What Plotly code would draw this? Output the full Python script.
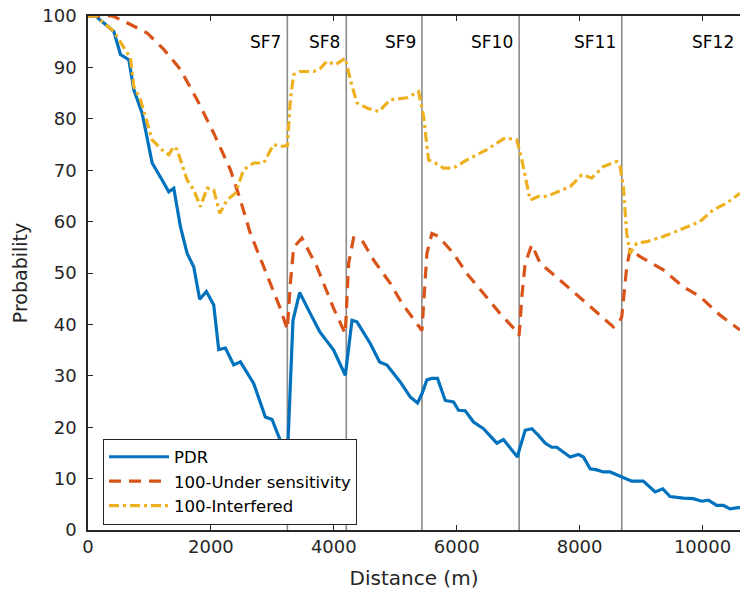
import plotly.graph_objects as go

# ---------------- data ----------------
dist_pdr = [0, 122, 420, 474, 528, 664, 745, 881, 1044, 1206, 1314, 1396, 1504, 1613, 1720,
            1818, 1927, 2046, 2127, 2236, 2371, 2480, 2696, 2886, 2995, 3130, 3244,
            3336, 3444, 3618, 3770, 3997, 4187,
            4296, 4377, 4593, 4745, 4865, 5081, 5244, 5363, 5434,
            5515, 5596, 5688, 5813, 5948, 6030, 6138, 6274, 6436, 6653, 6761, 6989, 7016,
            7114, 7222, 7330, 7439, 7547, 7629, 7846, 7980, 8062, 8171, 8279, 8387, 8496, 8686,
            8849, 9037, 9228, 9353, 9472, 9688, 9851, 9987, 10095, 10231, 10339, 10447, 10610]
pdr = [100, 100, 97, 94.8, 92.5, 91.5, 85.7, 81.1, 71.4, 68.1, 65.8, 66.5, 59, 53.8, 51.2,
       44.9, 46.4, 43.8, 35.1, 35.4, 32.1, 32.7, 28.5, 22, 21.5, 17.4, 14,
       40.8, 46.2, 42.1, 38.6, 35, 30.1,
       40.8, 40.5, 36.3, 32.7, 32.1, 28.8, 25.9, 24.7, 26.5,
       29.2, 29.5, 29.5, 25.2, 24.9, 23.3, 23.2, 21, 19.7, 16.9, 17.6, 14.2, 15.5,
       19.4, 19.7, 18.4, 16.9, 16.1, 16.1, 14.2, 14.7, 14.2, 11.9, 11.7, 11.3, 11.3, 10.3,
       9.5, 9.5, 7.4, 8, 6.5, 6.2, 6.1, 5.6, 5.8, 4.8, 4.8, 4.1, 4.4]

dist_under = [0, 400, 583, 962, 1233, 1504, 1775, 2046, 2317, 2480, 2642, 2858, 2967, 3130, 3244,
              3293, 3347, 3482, 3726, 3997, 4187,
              4241, 4322, 4458, 4648, 4919, 5109, 5379, 5434,
              5515, 5597, 5705, 5948, 6166, 6436, 6707, 6979, 7016,
              7060, 7114, 7222, 7358, 7683, 7954, 8225, 8550, 8647, 8686,
              8712, 8767, 8821, 8984, 9363, 9688, 9959, 10285, 10610]
under_sens = [100, 100, 99, 96.7, 93.5, 89.6, 83.7, 77.2, 70.1, 64.2, 57.7, 51.2, 48, 43.1, 39,
              48, 55, 56.8, 51.2, 43.1, 38.2,
              51.9, 56.8, 56.4, 52.5, 48, 44.1, 39.5, 38.8,
              53.8, 57.7, 57.1, 53.8, 49.9, 46, 42.1, 38.6, 37.8,
              45.4, 51.9, 55.5, 51.9, 48.6, 45.7, 42.8, 39.5, 40.5, 41.5,
              44.7, 51.2, 54.5, 53.2, 50.6, 47.3, 45.4, 41.8, 38.9]

dist_interf = [0, 122, 420, 637, 691, 745, 854, 1044, 1233, 1314, 1396, 1450, 1613, 1721, 1829,
               1938, 2046, 2143, 2263, 2398, 2533, 2696, 2858, 3021, 3130, 3244,
               3293, 3347, 3455, 3672, 3780, 3889, 4024, 4187,
               4268, 4377, 4540, 4729, 4919, 5190, 5379,
               5461, 5542, 5650, 5786, 5948, 6166, 6491, 6789, 6979,
               7060, 7195, 7330, 7466, 7846, 8035, 8198, 8387, 8605, 8659,
               8712, 8767, 8821, 8930, 9093, 9363, 9634, 9959, 10176, 10393, 10610]
interfered = [100, 100, 97, 92.8, 91.8, 86.3, 83.7, 75.9, 73.6, 73, 74.6, 74, 68.1, 66.2, 62.9,
              66.5, 66.2, 61.6, 64.2, 65.5, 70.1, 71.4, 71.4, 75, 74.6, 74.8,
              83.7, 88.6, 89.2, 89.2, 89.8, 91.2, 90.5, 91.8,
              87.6, 83.1, 82.1, 81.4, 83.7, 84.1, 85.3,
              80.5, 72, 71.4, 70.4, 70.4, 72, 74, 76.3, 75.9,
              72, 64.2, 64.9, 64.9, 66.8, 69.1, 68.5, 70.7, 71.7, 70.7,
              66.8, 57.7, 53.8, 55.8, 56.1, 57.1, 58.4, 60, 62.3, 63.6, 65.5]

sf_boundaries = [3244, 4203, 5434, 7016, 8686]
sf_labels = ["SF7", "SF8", "SF9", "SF10", "SF11", "SF12"]
x_ticks = [0, 2000, 4000, 6000, 8000, 10000]
y_ticks = list(range(0, 101, 10))
x_max = 10610

# ---------------- figure ----------------
FONT = "DejaVu Sans"
fig = go.Figure()

fig.add_trace(go.Scatter(x=dist_pdr, y=pdr, mode="lines", name="PDR",
                         line=dict(color="#0072BD", width=3.2)))
fig.add_trace(go.Scatter(x=dist_under, y=under_sens, mode="lines", name="100-Under sensitivity",
                         line=dict(color="#D95319", width=3.2, dash="12px,8px")))
fig.add_trace(go.Scatter(x=dist_interf, y=interfered, mode="lines", name="100-Interfered",
                         line=dict(color="#EDB120", width=3.2, dash="10px,4px,3px,4px")))

for b in sf_boundaries:
    fig.add_shape(type="line", x0=b, x1=b, y0=0, y1=100, xref="x", yref="y",
                  line=dict(color="#8a8a8a", width=1.6), layer="below")

label_x = sf_boundaries + [x_max]
for lx, lab in zip(label_x, sf_labels):
    fig.add_annotation(x=lx, y=95, xref="x", yref="y", text=lab, showarrow=False,
                       xanchor="right", yanchor="middle", xshift=-4,
                       font=dict(family=FONT, size=17, color="#000000"))

fig.update_layout(
    width=740, height=590,
    margin=dict(l=88, r=0, t=16, b=60),
    paper_bgcolor="white", plot_bgcolor="white",
    font=dict(family=FONT, size=18, color="#262626"),
    showlegend=True,
    legend=dict(x=0.023, y=0.178, xanchor="left", yanchor="top",
                bgcolor="white", bordercolor="#262626", borderwidth=1,
                font=dict(family=FONT, size=16.5, color="#000000"),
                tracegroupgap=0, itemwidth=60),
    xaxis=dict(range=[0, x_max], tickvals=x_ticks, ticktext=[str(v) for v in x_ticks],
               ticks="inside", ticklen=5, tickcolor="#262626",
               showline=True, linecolor="#262626", linewidth=1.5, mirror="ticks",
               showgrid=False, zeroline=False,
               tickfont=dict(family=FONT, size=18, color="#262626"),
               title=dict(text="Distance (m)", font=dict(family=FONT, size=20, color="#262626"),
                          standoff=15)),
    yaxis=dict(range=[0, 100], tickvals=y_ticks, ticks="inside", ticklen=5, tickcolor="#262626",
               showline=True, linecolor="#262626", linewidth=1.5, mirror=False,
               showgrid=False, zeroline=False,
               tickfont=dict(family=FONT, size=18, color="#262626"),
               ticklabelstandoff=6,
               title=dict(text="Probability", font=dict(family=FONT, size=19, color="#262626"),
                          standoff=10)),
)

fig.write_html("out.html", config={"displayModeBar": False},
               post_script="document.body.style.margin='0px';")
